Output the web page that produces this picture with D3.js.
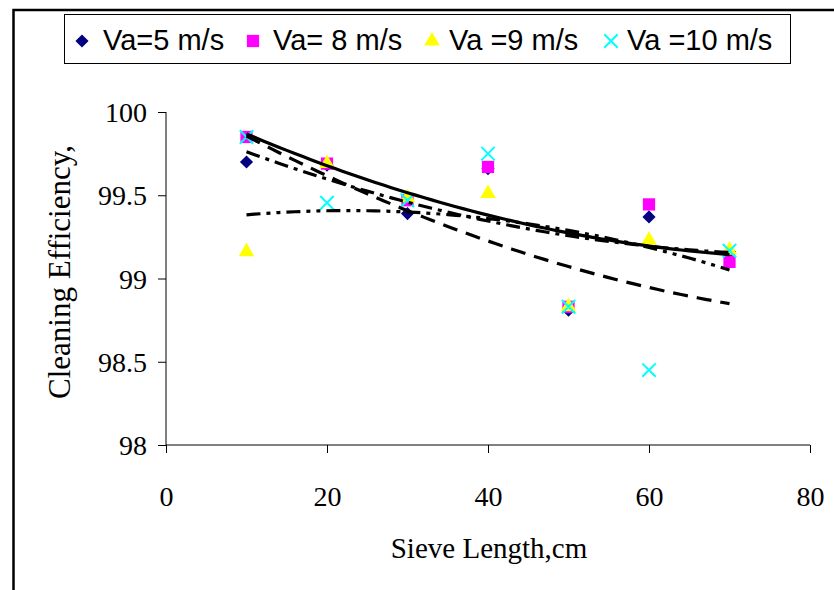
<!DOCTYPE html>
<html><head><meta charset="utf-8">
<script src="https://cdn.jsdelivr.net/npm/d3@7"></script>
<style>
html,body{margin:0;padding:0;background:#fff;}
svg{display:block;}
</style></head>
<body>
<svg id="chart" width="834" height="590"></svg>
<script>
// ---- data ----
const sieveLength = [10, 20, 30, 40, 50, 60, 70];
const va5  = [99.70, 99.68, 99.39, 99.66, 98.81, 99.37, 99.16];
const va8  = [99.85, 99.69, 99.47, 99.67, 98.83, 99.445, 99.10];
const va9  = [99.16, 99.69, 99.485, 99.51, 98.83, 99.23, 99.17];
const va10 = [99.85, 99.455, 99.47, 99.75, 98.83, 98.45, 99.167];
const seriesNames = ["Va=5 m/s", "Va= 8 m/s", "Va =9 m/s", "Va =10 m/s"];
const xTicks = [0, 20, 40, 60, 80];
const yTicks = [98, 98.5, 99, 99.5, 100];

const svg = d3.select("#chart");
const serif = "'Liberation Serif','Times New Roman',serif";

// outer frame
svg.append("rect").attr("x", 13.5).attr("y", 10).attr("width", 900).attr("height", 700)
  .attr("fill", "#fff").attr("stroke", "#000").attr("stroke-width", 2.5);

const x = d3.scaleLinear().domain([0, 80]).range([166, 810]);
const y = d3.scaleLinear().domain([98, 100]).range([445, 112]);

// axes
const xAxis = d3.axisBottom(x).tickValues(xTicks).tickSize(8).tickFormat(d3.format("d"));
const yAxis = d3.axisLeft(y).tickValues(yTicks).tickSize(8).tickFormat(d => d);

const gx = svg.append("g").attr("transform", `translate(0,${y(98)})`).call(xAxis);
const gy = svg.append("g").attr("transform", `translate(${x(0)},0)`).call(yAxis);
[gx, gy].forEach(g => {
  g.select(".domain").attr("stroke", "#000").attr("stroke-width", 1);
  g.selectAll(".tick line").attr("stroke", "#000").attr("stroke-width", 1);
  g.selectAll(".tick text").attr("fill", "#000")
    .style("font-family", serif).style("font-size", "28px");
});
gx.select(".domain").attr("d", `M${x(0)},0H${x(80)}`);
gy.select(".domain").attr("d", `M0,${y(98)}V${y(100)}`);
gx.selectAll(".tick text").attr("dy", "0").attr("y", 61);
gy.selectAll(".tick text").attr("x", -19).attr("dy", "0.34em");

// axis titles
svg.append("text").attr("x", 489).attr("y", 558).attr("text-anchor", "middle")
  .style("font-family", serif).style("font-size", "29px")
  .text("Sieve Length,cm");
svg.append("text").attr("transform", "translate(70,272) rotate(-90)").attr("text-anchor", "middle")
  .style("font-family", serif).style("font-size", "31px")
  .text("Cleaning Efficiency,");

// markers
const sym = {
  diamond: d3.symbol().type(d3.symbolDiamond2 || d3.symbolDiamond).size(110),
  square: d3.symbol().type(d3.symbolSquare).size(150),
  triangle: d3.symbol().type(d3.symbolTriangle).size(105),
  x: d3.symbol().type(d3.symbolX || d3.symbolTimes).size(120)
};
const allSeries = [
  {name: seriesNames[0], values: va5, shape: "diamond", color: "#000080", dash: "14,6,4,6"},
  {name: seriesNames[1], values: va8, shape: "square", color: "#FF00FF", dash: null},
  {name: seriesNames[2], values: va9, shape: "triangle", color: "#FFFF00", dash: "14,6,4,6,4,6"},
  {name: seriesNames[3], values: va10, shape: "x", color: "#00FFFF", dash: "15,9"}
];

function drawMarker(g, s, px, py) {
  const p = g.append("path").attr("d", sym[s.shape]()).attr("transform", `translate(${px},${py})`);
  if (s.shape === "x") p.attr("fill", "none").attr("stroke", s.color).attr("stroke-width", 2);
  else p.attr("fill", s.color).attr("stroke", "none");
  return p;
}

const mg = svg.append("g");
allSeries.forEach(s => {
  s.values.forEach((v, i) => drawMarker(mg, s, x(sieveLength[i]), y(v)));
});

// polynomial (order 2) least-squares trendlines, computed from the series
function quadFit(xs, ys) {
  const n = xs.length;
  let S = [0,0,0,0,0], T = [0,0,0];
  for (let i = 0; i < n; i++) {
    const xi = xs[i], yi = ys[i];
    for (let k = 0; k < 5; k++) S[k] += Math.pow(xi, k);
    for (let k = 0; k < 3; k++) T[k] += yi * Math.pow(xi, k);
  }
  const A = [[S[0],S[1],S[2],T[0]],[S[1],S[2],S[3],T[1]],[S[2],S[3],S[4],T[2]]];
  for (let c = 0; c < 3; c++) {
    for (let r = c + 1; r < 3; r++) {
      const f = A[r][c] / A[c][c];
      for (let k = c; k < 4; k++) A[r][k] -= f * A[c][k];
    }
  }
  const b = [0,0,0];
  for (let r = 2; r >= 0; r--) {
    let s = A[r][3];
    for (let k = r + 1; k < 3; k++) s -= A[r][k] * b[k];
    b[r] = s / A[r][r];
  }
  return t => b[0] + b[1]*t + b[2]*t*t;
}

const tg = svg.append("g");
const line = d3.line().x(d => x(d[0])).y(d => y(d[1]));
const xs = d3.range(10, 70.01, 1);
allSeries.forEach(s => {
  const f = quadFit(sieveLength, s.values);
  const p = tg.append("path").attr("d", line(xs.map(t => [t, f(t)])))
    .attr("fill", "none").attr("stroke", "#000").attr("stroke-width", 3.2);
  if (s.dash) p.attr("stroke-dasharray", s.dash);
});

// legend
const lg = svg.append("g");
lg.append("rect").attr("x", 64.5).attr("y", 14.5).attr("width", 726).attr("height", 49)
  .attr("fill", "#fff").attr("stroke", "#000").attr("stroke-width", 1);
const legendMarkX = [82, 253, 432, 611];
const legendTextX = [103, 273, 449, 627];
allSeries.forEach((s, i) => {
  drawMarker(lg, s, legendMarkX[i], 41);
  lg.append("text").attr("x", legendTextX[i]).attr("y", 50)
    .style("font-family", "'Liberation Sans',Arial,sans-serif").style("font-size", "29px")
    .text(s.name);
});
</script>
</body></html>
